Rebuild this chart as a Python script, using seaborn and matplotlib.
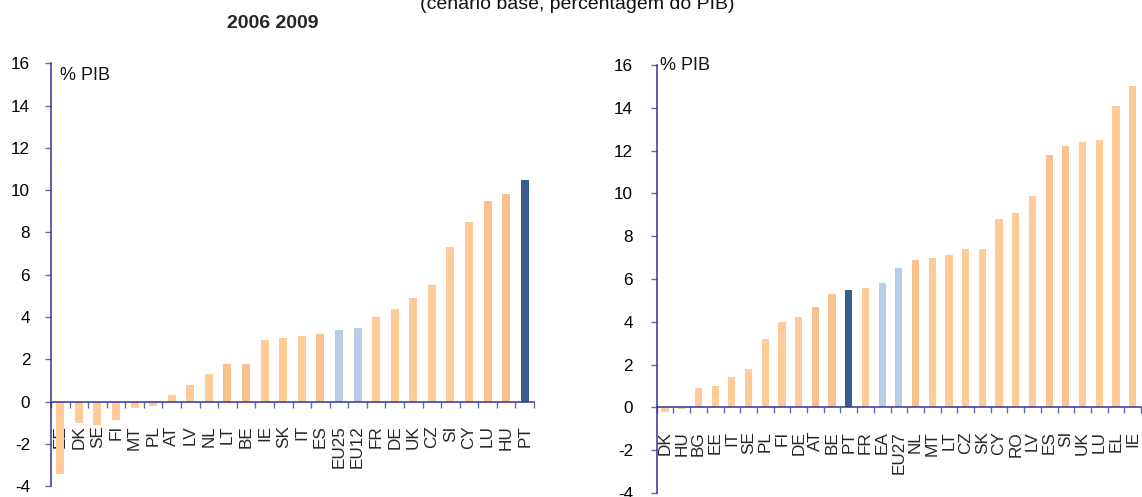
import matplotlib
matplotlib.use("Agg")
import matplotlib.pyplot as plt
import seaborn as sns
import numpy as np

# ---- data ----
left_categories = ["EE", "DK", "SE", "FI", "MT", "PL", "AT", "LV", "NL", "LT", "BE", "IE", "SK",
                   "IT", "ES", "EU25", "EU12", "FR", "DE", "UK", "CZ", "SI", "CY", "LU", "HU", "PT"]
left_values = [-3.4, -1.0, -1.1, -0.85, -0.3, -0.2, 0.3, 0.8, 1.3, 1.8, 1.8, 2.9, 3.0,
               3.1, 3.2, 3.4, 3.5, 4.0, 4.4, 4.9, 5.5, 7.3, 8.5, 9.5, 9.8, 10.5]
left_dark = ["LT", "BE", "ES", "LU", "HU"]
left_aggregates = ["EU25", "EU12"]
left_highlight = ["PT"]

right_categories = ["DK", "HU", "BG", "EE", "IT", "SE", "PL", "FI", "DE", "AT", "BE", "PT", "FR", "EA",
                    "EU27", "NL", "MT", "LT", "CZ", "SK", "CY", "RO", "LV", "ES", "SI", "UK", "LU", "EL", "IE"]
right_values = [-0.2, -0.1, 0.9, 1.0, 1.4, 1.8, 3.2, 4.0, 4.2, 4.7, 5.3, 5.5, 5.6, 5.8,
                6.5, 6.9, 7.0, 7.1, 7.4, 7.4, 8.8, 9.1, 9.9, 11.8, 12.2, 12.4, 12.5, 14.1, 15.0]
right_dark = ["AT", "BE", "NL", "ES", "SI"]
right_aggregates = ["EA", "EU27"]
right_highlight = ["PT"]

y_ticks = [-4, -2, 0, 2, 4, 6, 8, 10, 12, 14, 16]
unit_label = "% PIB"
title_text = "2006 2009"
top_text = "(cenário base, percentagem do PIB)"

LIGHT = "#FFCC99"
DARK = "#FAC090"
AGG = "#B9CDE5"
NAVY = "#365F91"
AXIS = "#333399"

sns.set_theme(style="white")
plt.rcParams["font.family"] = ["Liberation Sans", "DejaVu Sans"]

fig = plt.figure(figsize=(11.42, 4.97), dpi=100)


def colors_for(cats, dark, agg, hi):
    out = []
    for c in cats:
        if c in hi:
            out.append(NAVY)
        elif c in agg:
            out.append(AGG)
        elif c in dark:
            out.append(DARK)
        else:
            out.append(LIGHT)
    return out


def panel(rect, cats, vals, dark, agg, hi, ytick_pad, label_xy):
    ax = fig.add_axes(rect)
    n = len(cats)
    sns.barplot(x=cats, y=vals, hue=cats, palette=colors_for(cats, dark, agg, hi),
                legend=False, width=0.43, ax=ax, saturation=1, linewidth=0)
    ax.set_xlim(-0.5, n - 0.5)
    ax.set_ylim(-4, 16)
    ax.set_yticks(y_ticks)
    ax.set_yticklabels([str(t) for t in y_ticks])
    ax.set_xlabel("")
    ax.set_ylabel("")
    for s in ["top", "right"]:
        ax.spines[s].set_visible(False)
    ax.spines["left"].set_color(AXIS)
    ax.spines["left"].set_linewidth(1.1)
    ax.spines["bottom"].set_position(("data", 0))
    ax.spines["bottom"].set_color(AXIS)
    ax.spines["bottom"].set_linewidth(1.1)
    # major ticks between categories, labels at centers
    ax.set_xticks(np.arange(-0.5, n, 1.0))
    ax.set_xticklabels([""] * (n + 1))
    ax.set_xticks(np.arange(n), minor=True)
    ax.set_xticklabels(cats, minor=True, rotation=90, fontsize=12.3, va="top", ha="center")
    ax.tick_params(axis="x", which="major", direction="out", length=4, width=1.0, color="#6666B3", bottom=True)
    ax.tick_params(axis="x", which="minor", length=0, pad=17, bottom=True)
    ax.tick_params(axis="y", direction="out", length=4, width=1.0, color="#6666B3", left=True,
                   labelsize=12.3, pad=ytick_pad, labelcolor="black")
    ax.grid(False)
    ax.set_facecolor("none")
    ax.text(label_xy[0], label_xy[1], unit_label, transform=ax.transAxes, fontsize=13,
            ha="left", va="center", color="#111111")
    return ax


W, H = 1142, 497
ax1 = panel([51 / W, 1 - 486.3 / H, 483 / W, (486.3 - 63.3) / H],
            left_categories, left_values, left_dark, left_aggregates, left_highlight, 11,
            (0.0186, 0.972))
ax2 = panel([656.7 / W, 1 - 492.9 / H, 484.3 / W, (492.9 - 65) / H],
            right_categories, right_values, right_dark, right_aggregates, right_highlight, 13,
            (0.007, 1.0))

fig.text(273 / W, 1 - 24 / H, title_text, fontsize=14, fontweight="bold", ha="center", va="center")
fig.text(577 / W, 1 - 9 / H, top_text, fontsize=14, ha="center", va="baseline", color="#111111")

fig.savefig("out.png", dpi=100)
